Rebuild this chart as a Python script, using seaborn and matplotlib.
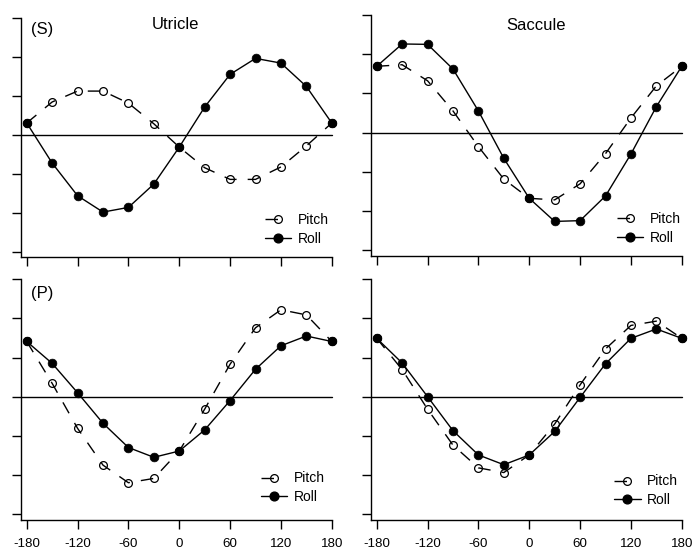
import matplotlib
matplotlib.use("Agg")
import matplotlib.pyplot as plt
from matplotlib.lines import Line2D
import pandas as pd
import seaborn as sns

# Tilt angle (degrees) and normalised responses for each panel
angles = [-180, -150, -120, -90, -60, -30, 0, 30, 60, 90, 120, 150, 180]
x_ticks = [-180, -120, -60, 0, 60, 120, 180]
y_ticks = [-3, -2, -1, 0, 1, 2, 3]

utricle_s_pitch = [0.31, 0.85, 1.13, 1.13, 0.82, 0.29, -0.31, -0.84, -1.14, -1.14, -0.82, -0.28, 0.31]
utricle_s_roll = [0.31, -0.72, -1.56, -1.98, -1.86, -1.26, -0.31, 0.72, 1.56, 1.97, 1.85, 1.25, 0.31]
saccule_s_pitch = [1.69, 1.73, 1.32, 0.55, -0.36, -1.19, -1.68, -1.72, -1.31, -0.54, 0.37, 1.19, 1.69]
saccule_s_roll = [1.69, 2.26, 2.25, 1.62, 0.55, -0.66, -1.68, -2.27, -2.25, -1.62, -0.55, 0.66, 1.69]
utricle_p_pitch = [1.41, 0.34, -0.81, -1.75, -2.20, -2.09, -1.39, -0.32, 0.83, 1.76, 2.22, 2.09, 1.41]
utricle_p_roll = [1.41, 0.85, 0.10, -0.68, -1.30, -1.55, -1.39, -0.85, -0.10, 0.70, 1.30, 1.55, 1.41]
saccule_p_pitch = [1.49, 0.69, -0.32, -1.24, -1.82, -1.94, -1.49, -0.70, 0.30, 1.22, 1.82, 1.93, 1.49]
saccule_p_roll = [1.49, 0.86, 0.00, -0.87, -1.49, -1.74, -1.49, -0.89, -0.02, 0.84, 1.49, 1.73, 1.49]

series_labels = ["Pitch", "Roll"]
column_titles = ["Utricle", "Saccule"]
row_tags = ["(S)", "(P)"]

sns.set_style("ticks", rc={
    "axes.edgecolor": "black", "xtick.color": "black", "ytick.color": "black",
    "text.color": "black", "axes.labelcolor": "black",
})
plt.rcParams["font.family"] = ["Liberation Sans", "DejaVu Sans"]
plt.rcParams["axes.unicode_minus"] = False

W, H = 693, 551
fig = plt.figure(figsize=(W / 100, H / 100), dpi=100)


def rect(left, top, width, height):
    return [left / W, 1 - (top + height) / H, width / W, height / H]


def fig_xy(x, y):
    return (x / W, 1 - y / H)


XLIM = (-187, 187)
YLIM = (-3.145, 3.145)
DASH = (0, (9, 8))

panels = [
    dict(pitch=utricle_s_pitch, roll=utricle_s_roll, rect=rect(20.8, 12.7, 316.9, 244.7),
         title=column_titles[0], title_xy=(175.5, 29.3), tag=row_tags[0], tag_xy=(31, 33.8),
         leg_xy=(265, 229.2), bottom=False),
    dict(pitch=saccule_s_pitch, roll=saccule_s_roll, rect=rect(370.8, 9.3, 316.9, 246.4),
         title=column_titles[1], title_xy=(535.8, 30.0), tag=None, tag_xy=None,
         leg_xy=(616.7, 228.5), bottom=False),
    dict(pitch=utricle_p_pitch, roll=utricle_p_roll, rect=rect(20.8, 273.6, 316.9, 246.1),
         title=None, title_xy=None, tag=row_tags[1], tag_xy=(31, 298.2),
         leg_xy=(261, 487.8), bottom=True),
    dict(pitch=saccule_p_pitch, roll=saccule_p_roll, rect=rect(370.8, 273.6, 316.9, 246.1),
         title=None, title_xy=None, tag=None, tag_xy=None,
         leg_xy=(614.3, 490.8), bottom=True),
]

for p in panels:
    ax = fig.add_axes(p["rect"])
    df = pd.DataFrame({"angle": angles, "Pitch": p["pitch"], "Roll": p["roll"]})

    # reference line at zero response
    ax.axhline(0, xmin=0, xmax=(180 - XLIM[0]) / (XLIM[1] - XLIM[0]),
               color="black", lw=1.0, zorder=1)

    sns.lineplot(data=df, x="angle", y="Pitch", ax=ax, color="black", lw=1.0,
                 linestyle=DASH, marker="o", ms=5.6, mfc="none", mec="black",
                 mew=0.9, legend=False, zorder=2)
    sns.lineplot(data=df, x="angle", y="Roll", ax=ax, color="black", lw=1.0,
                 marker="o", ms=6.3, mfc="black", mec="black", mew=0.5,
                 legend=False, zorder=3)

    ax.set_xlim(*XLIM)
    ax.set_ylim(*YLIM)
    ax.set_xticks(x_ticks)
    ax.set_yticks(y_ticks)
    ax.set_yticklabels([])
    if not p["bottom"]:
        ax.set_xticklabels([])
    ax.set_xlabel("")
    ax.set_ylabel("")
    ax.tick_params(direction="out", length=6.5, width=1.0, labelsize=9.6, pad=7)
    sns.despine(ax=ax)
    ax.spines["left"].set_bounds(YLIM[0], 3)
    ax.spines["bottom"].set_bounds(XLIM[0], 180)
    for s in ("left", "bottom"):
        ax.spines[s].set_linewidth(1.0)

    handles = [
        Line2D([], [], color="black", lw=1.0, linestyle=(0, (9, 30)), marker="o",
               ms=5.6, mfc="none", mec="black", mew=0.9),
        Line2D([], [], color="black", lw=1.0, marker="o", ms=6.3, mfc="black",
               mec="black"),
    ]
    ax.legend(handles, series_labels, loc="center left",
              bbox_to_anchor=fig_xy(*p["leg_xy"]), bbox_transform=fig.transFigure,
              frameon=False, borderpad=0, borderaxespad=0, handlelength=1.9,
              handletextpad=0.48, labelspacing=0.35, fontsize=10)

    if p["title"]:
        fig.text(*fig_xy(*p["title_xy"]), p["title"], ha="center", va="baseline",
                 fontsize=12)
    if p["tag"]:
        fig.text(*fig_xy(*p["tag_xy"]), p["tag"], ha="left", va="baseline",
                 fontsize=12)

fig.savefig("out.png", dpi=100)
